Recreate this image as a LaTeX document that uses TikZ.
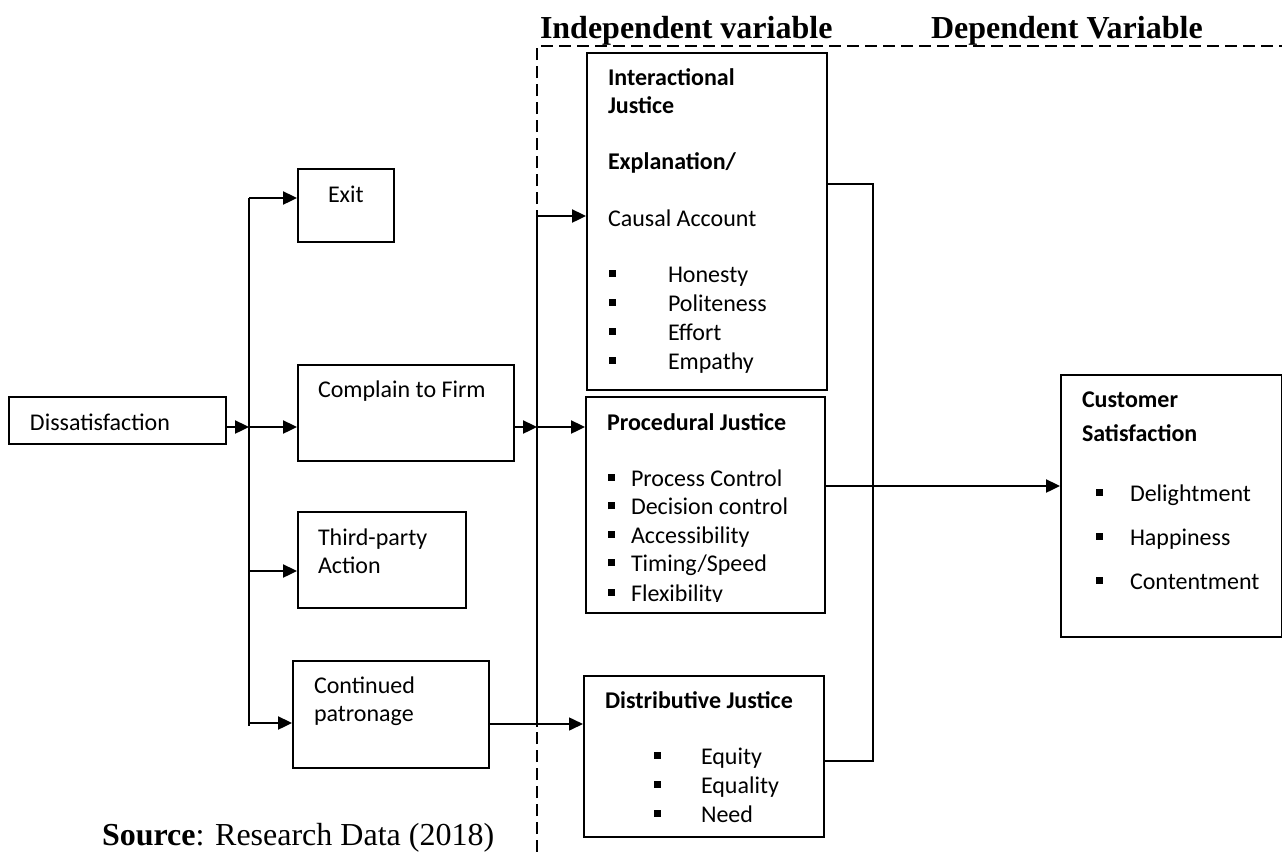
\documentclass[tikz,border=0pt]{standalone}
\usepackage{fontspec}
\setmainfont{Carlito}
\newfontfamily\timesfont{Liberation Serif}
\usetikzlibrary{arrows.meta,positioning}
\newcommand{\sq}{\rule[2.6pt]{3.5pt}{3.5pt}}

\begin{document}
\begin{tikzpicture}
  [
  x=0.5pt, y=-0.5pt, line width=1pt, >={Triangle[length=7pt,width=6.5pt]},
  box/.style={draw, line width=1pt, anchor=north west, inner sep=0pt},
  txt/.style={anchor=base west, inner sep=0pt, font=\fontsize{12}{14}\selectfont},
  bold/.style={txt, font=\fontsize{12}{14}\selectfont\bfseries},
  heading/.style={anchor=base west, inner sep=0pt, font=\timesfont\fontsize{16}{19}\selectfont\bfseries},
  source/.style={anchor=base west, inner sep=0pt, font=\timesfont\fontsize{16}{19}\selectfont},
  link/.style={line width=1.2pt},
  thinlink/.style={line width=0.8pt},
  frame/.style={line width=0.8pt, dash pattern=on 6pt off 3pt},
  ]
  \useasboundingbox (0,0) rectangle (1282,852);

  \draw[frame] (537,852) -- (537,46) -- (1282,46);
  \node[heading] (indep) at (539,38) {Independent variable};
  \node[heading] (dep) at (930,38) {Dependent Variable};
  \node[source] (src) at (101,845) {\textbf{Source}: Research Data (2018)};

  \node[box, minimum width=108.5pt, minimum height=23.5pt] (dis) at (8,396) {};
  \node[txt] (dis-t) at (29,430) {Dissatisfaction};

  \node[box, minimum width=48pt, minimum height=36.5pt] (exit) at (297,168) {};
  \node[txt] (exit-t) at (327,202) {Exit};
  \node[box, minimum width=108pt, minimum height=48pt] (compl) at (297,364) {};
  \node[txt] (compl-t) at (317,397) {Complain to Firm};
  \node[box, minimum width=84pt, minimum height=48pt] (third) at (297,511) {};
  \node[txt] (third-t1) at (317,545) {Third-party};
  \node[txt] (third-t2) at (317,573) {Action};
  \node[box, minimum width=98pt, minimum height=53.5pt] (cont) at (292,660) {};
  \node[txt] (cont-t1) at (313,693) {Continued};
  \node[txt] (cont-t2) at (313,721) {patronage};

  \node[box, minimum width=120pt, minimum height=168.5pt] (inter) at (586,52) {};
  \node[bold] (inter-t1) at (607,85) {Interactional};
  \node[bold] (inter-t2) at (607,113) {Justice};
  \node[bold] (inter-t3) at (607,169) {Explanation/};
  \node[txt] (inter-t4) at (607,226) {Causal Account};
  \node[txt] (inter-i1) at (608,282) {\makebox[29.5pt][l]{\sq}Honesty};
  \node[txt] (inter-i2) at (608,311) {\makebox[29.5pt][l]{\sq}Politeness};
  \node[txt] (inter-i3) at (608,340) {\makebox[29.5pt][l]{\sq}Effort};
  \node[txt] (inter-i4) at (608,369) {\makebox[29.5pt][l]{\sq}Empathy};

  \node[box, minimum width=119.5pt, minimum height=108pt] (proc) at (585,396) {};
  \node[bold] (proc-t) at (606,430) {Procedural Justice};
  \node[txt] (proc-i1) at (607,486) {\makebox[11.5pt][l]{\sq}Process Control};
  \node[txt] (proc-i2) at (607,514.5) {\makebox[11.5pt][l]{\sq}Decision control};
  \node[txt] (proc-i3) at (607,543) {\makebox[11.5pt][l]{\sq}Accessibility};
  \node[txt] (proc-i4) at (607,571.5) {\makebox[11.5pt][l]{\sq}Timing/Speed};
  \begin{scope}
    \clip (585,580) rectangle (824,601);
    \node[txt] (proc-i5) at (607,601) {\makebox[11.5pt][l]{\sq}Flexibility};
  \end{scope}

  \node[box, minimum width=120pt, minimum height=80.5pt] (distr) at (583,675) {};
  \node[bold] (distr-t) at (604,708) {Distributive Justice};
  \node[txt] (distr-i1) at (653,764) {\makebox[23.5pt][l]{\sq}Equity};
  \node[txt] (distr-i2) at (653,793) {\makebox[23.5pt][l]{\sq}Equality};
  \node[txt] (distr-i3) at (653,822) {\makebox[23.5pt][l]{\sq}Need};

  \node[box, minimum width=110.5pt, minimum height=131pt] (cust) at (1060,374) {};
  \node[bold] (cust-t1) at (1081,407) {Customer};
  \node[bold] (cust-t2) at (1081,441) {Satisfaction};
  \node[txt] (cust-i1) at (1095,501) {\makebox[17pt][l]{\sq}Delightment};
  \node[txt] (cust-i2) at (1095,545) {\makebox[17pt][l]{\sq}Happiness};
  \node[txt] (cust-i3) at (1095,589) {\makebox[17pt][l]{\sq}Contentment};

  \coordinate (ltop) at (249,198);
  \coordinate (lmid) at (249,427);
  \coordinate (llow) at (249,571);
  \coordinate (lbot) at (249,723);
  \draw[link] (ltop) -- (249,726);
  \draw[link,->] (lmid -| dis.east) -- (lmid);
  \draw[link,->] (ltop) -- (ltop -| exit.west);
  \draw[link,->] (lmid) -- (lmid -| compl.west);
  \draw[link,->] (llow) -- (llow -| third.west);
  \draw[link,->] (lbot) -- (lbot -| cont.west);

  \coordinate (mtop) at (537,216);
  \coordinate (mmid) at (537,427);
  \coordinate (mbot) at (537,724);
  \draw[link] (mtop) -- (537,727);
  \draw[link,->] (mmid -| compl.east) -- (mmid);
  \draw[link,->] (mtop) -- (mtop -| inter.west);
  \draw[link,->] (mmid) -- (mmid -| proc.west);
  \draw[thinlink,->] (mbot -| cont.east) -- (mbot -| distr.west);

  \coordinate (rtop) at (873,184);
  \coordinate (rmid) at (873,486);
  \coordinate (rbot) at (873,761);
  \draw[thinlink] (rtop -| inter.east) -- (rtop) -- (rbot) -- (rbot -| distr.east);
  \draw[thinlink] (rmid -| proc.east) -- (rmid);
  \draw[link,->] (rmid) -- (rmid -| cust.west);
\end{tikzpicture}
\end{document}
